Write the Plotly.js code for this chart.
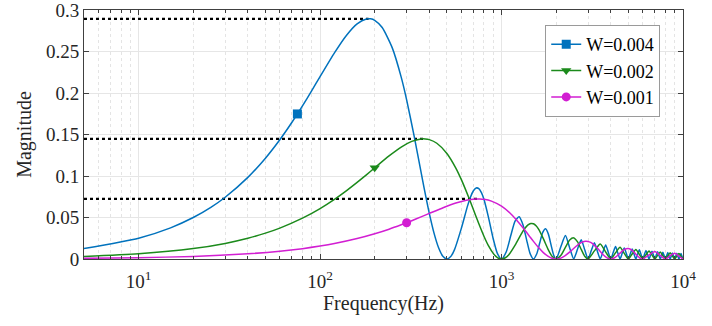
<!DOCTYPE html>
<html>
<head>
<meta charset="utf-8">
<script src="https://cdn.plot.ly/plotly-3.0.1.min.js"></script>
<style>html,body{margin:0;padding:0;background:#fff;}#chart{width:712px;height:326px;}</style>
</head>
<body>
<div id="chart"></div>
<script>
// ---- data ----
var seriesNames = ['W=0.004', 'W=0.002', 'W=0.001'];

var freqB = [5,10,15,20,25,30,40,50,60,70,80,90,100,120,140,160,180,190,200,220,250,280,300,330,360,375,400,425,450,475,500,
  525,550,600,650,675,700,725,750,775,800,850,900,950,1000,
  1062.5,1125,1187.5,1250,1312.5,1375,1437.5,1500,1562.5,1625,1687.5,1750,1812.5,1875,1937.5,2000,
  2125,2250,2375,2500,2625,2750,2875,3000,3125,3250,3375,3500,3625,3750,3875,4000,
  4125,4250,4375,4500,4625,4750,4875,5000,5125,5250,5375,5500,5625,5750,5875,6000,
  6125,6250,6375,6500,6625,6750,6875,7000,7125,7250,7375,7500,7625,7750,7875,8000,
  8125,8250,8375,8500,8625,8750,8875,9000,9125,9250,9375,9500,9625,9750,9875,10000];
var magB = [0.01256,0.02510,0.03759,0.05000,0.06232,0.07451,0.09843,0.12158,0.14378,0.16487,0.18468,0.20308,0.21994,0.24860,0.26996,0.28364,0.28955,0.28965,0.28790,0.27921,0.25465,0.21938,0.19194,0.14814,0.10498,0.08488,0.05499,0.03087,0.01351,0.00328,0,
  0.00297,0.01105,0.03666,0.06410,0.07487,0.08226,0.08566,0.08488,0.08013,0.07198,0.04902,0.02444,0.00640,0,
  0.008775,0.028293,0.045757,0.050928,0.041400,0.023149,0.006486,0,0.005967,0.019588,0.032200,0.036377,0.029979,0.016976,0.004812,0,
  0.014979,0.028293,0.013402,0,0.012126,0.023149,0.011071,0,0.010186,0.019588,0.009431,0,0.008781,0.016976,0.008214,0,
  0.007716,0.014979,0.007275,0,0.006882,0.013402,0.006529,0,0.006211,0.012126,0.005922,0,0.005659,0.011071,0.005418,0,
  0.005197,0.010186,0.004993,0,0.004805,0.009431,0.004630,0,0.004467,0.008781,0.004316,0,0.004174,0.008214,0.004042,0,
  0.003918,0.007716,0.003801,0,0.003690,0.007275,0.003586,0,0.003488,0.006882,0.003395,0,0.003307,0.006529,0.003223,0];

var freqG = [5,10,20,30,40,50,60,80,100,120,140,160,180,200,240,280,320,360,380,400,440,500,560,600,660,720,750,800,850,900,950,1000,
  1050,1100,1200,1300,1350,1400,1450,1500,1550,1600,1700,1800,1900,2000,
  2125,2250,2375,2500,2625,2750,2875,3000,
  3250,3500,3750,4000,4250,4500,4750,5000,5250,5500,5750,6000,6250,6500,6750,7000,
  7250,7500,7750,8000,8250,8500,8750,9000,9250,9500,9750,10000];
var magG = [0.00314,0.00628,0.01255,0.01880,0.02500,0.03116,0.03726,0.04922,0.06079,0.07189,0.08244,0.09234,0.10154,0.10997,0.12430,0.13498,0.14182,0.14478,0.14483,0.14395,0.13961,0.12732,0.10969,0.09597,0.07407,0.05249,0.04244,0.02750,0.01544,0.00676,0.00164,0,
  0.00148,0.00553,0.01833,0.03205,0.03744,0.04113,0.04283,0.04244,0.04007,0.03599,0.02451,0.01222,0.00320,0,
  0.004387,0.014147,0.022879,0.025464,0.020700,0.011575,0.003243,0,
  0.009794,0.018189,0.008488,0,0.007489,0.014147,0.006701,0,0.006063,0.011575,0.005536,0,0.005093,0.009794,0.004716,0,
  0.004390,0.008488,0.004107,0,0.003858,0.007489,0.003638,0,0.003441,0.006701,0.003265,0];

var freqM = [5,10,20,40,60,80,100,120,160,200,240,280,300,320,360,400,480,560,640,720,760,800,880,1000,1120,1200,1320,1440,1500,1600,1700,1800,1900,2000,
  2100,2200,2400,2600,2700,2800,2900,3000,3100,3200,3400,3600,3800,4000,
  4250,4500,4750,5000,5250,5500,5750,6000,6500,7000,7500,8000,8500,9000,9500,10000];
var magM = [0.00079,0.00157,0.00314,0.00628,0.00940,0.01250,0.01558,0.01863,0.02461,0.03040,0.03595,0.04122,0.04374,0.04617,0.05077,0.05499,0.06215,0.06749,0.07091,0.07239,0.07241,0.07198,0.06980,0.06366,0.05485,0.04799,0.03704,0.02625,0.02122,0.01375,0.00772,0.00338,0.00082,0,
  0.00074,0.00276,0.00917,0.01603,0.01872,0.02057,0.02142,0.02122,0.02003,0.01800,0.01226,0.00611,0.00160,0,
  0.002194,0.007073,0.011439,0.012732,0.010350,0.005787,0.001621,0,0.004897,0.009094,0.004244,0,0.003745,0.007073,0.003351,0];

// single highlighted markers on each curve
var markFreq = [75, 200, 300];
var markMag = [0.17494, 0.10997, 0.04374];

// dotted peak reference lines
var freqMin = 5;
var peakFreq = [185, 371, 742];
var peakMag = [0.2897, 0.1448, 0.0724];

var xTickVals = [10, 100, 1000, 10000];
var xTickText = ['10<sup>1</sup>', '10<sup>2</sup>', '10<sup>3</sup>', '10<sup>4</sup>'];
var yTickVals = [0, 0.05, 0.1, 0.15, 0.2, 0.25, 0.3];
var yTickText = ['0', '0.05', '0.1', '0.15', '0.2', '0.25', '0.3'];

// ---- drawing ----
var colors = ['#0072BD', '#1B8A1B', '#D21ED2'];
var symbols = ['square', 'triangle-down', 'circle'];
var freqs = [freqB, freqG, freqM];
var mags = [magB, magG, magM];
var FONT = '"Liberation Serif", "Times New Roman", serif';

var traces = [];
for (var i = 0; i < 3; i++) {
  traces.push({
    x: [freqMin, peakFreq[i]], y: [peakMag[i], peakMag[i]],
    mode: 'lines', line: {color: '#000', width: 2.2, dash: 'dot'},
    showlegend: false, hoverinfo: 'skip'
  });
}
for (var i = 0; i < 3; i++) {
  traces.push({
    x: freqs[i], y: mags[i], mode: 'lines',
    line: {color: colors[i], width: 1.5, shape: 'spline', smoothing: 0.6},
    showlegend: false
  });
}
for (var i = 0; i < 3; i++) {
  traces.push({
    x: [markFreq[i]], y: [markMag[i]], mode: 'lines+markers', name: seriesNames[i],
    line: {color: colors[i], width: 1.5},
    marker: {color: colors[i], symbol: symbols[i], size: 9}
  });
}

var layout = {
  width: 712, height: 326,
  margin: {l: 84, r: 29, t: 10, b: 67},
  paper_bgcolor: '#fff', plot_bgcolor: '#fff',
  font: {family: FONT, size: 19, color: '#262626'},
  showlegend: true,
  legend: {
    x: 0.77, y: 0.94, xanchor: 'left', yanchor: 'top',
    bgcolor: '#fff', bordercolor: '#9a9a9a', borderwidth: 1,
    font: {family: FONT, size: 18, color: '#000'},
    tracegroupgap: 0
  },
  xaxis: {
    type: 'log', range: [Math.log10(freqMin), 4.0002],
    tickmode: 'array', tickvals: xTickVals, ticktext: xTickText,
    ticks: 'inside', ticklen: 5, tickcolor: '#404040',
    ticklabelstandoff: 5, ticklabeloverflow: 'allow',
    showline: true, linecolor: '#404040', linewidth: 1, mirror: 'ticks',
    showgrid: true, gridcolor: '#e6e6e6', gridwidth: 1,
    minor: {dtick: 'D1', ticks: 'inside', ticklen: 3, tickcolor: '#404040', showgrid: true, gridcolor: '#e4e4e4', griddash: 'dot', gridwidth: 1},
    zeroline: false,
    tickfont: {family: FONT, size: 19, color: '#262626'},
    title: {text: 'Frequency(Hz)', font: {family: FONT, size: 20, color: '#262626'}, standoff: 5}
  },
  yaxis: {
    range: [0, 0.3003],
    tickmode: 'array', tickvals: yTickVals, ticktext: yTickText,
    ticks: 'inside', ticklen: 5, tickcolor: '#404040',
    ticklabeloverflow: 'allow',
    showline: true, linecolor: '#404040', linewidth: 1, mirror: 'ticks',
    showgrid: true, gridcolor: '#e6e6e6', gridwidth: 1,
    zeroline: false,
    tickfont: {family: FONT, size: 19, color: '#262626'},
    title: {text: 'Magnitude', font: {family: FONT, size: 20, color: '#262626'}, standoff: 8}
  }
};

Plotly.newPlot('chart', traces, layout, {staticPlot: true, displayModeBar: false});
</script>
</body>
</html>
